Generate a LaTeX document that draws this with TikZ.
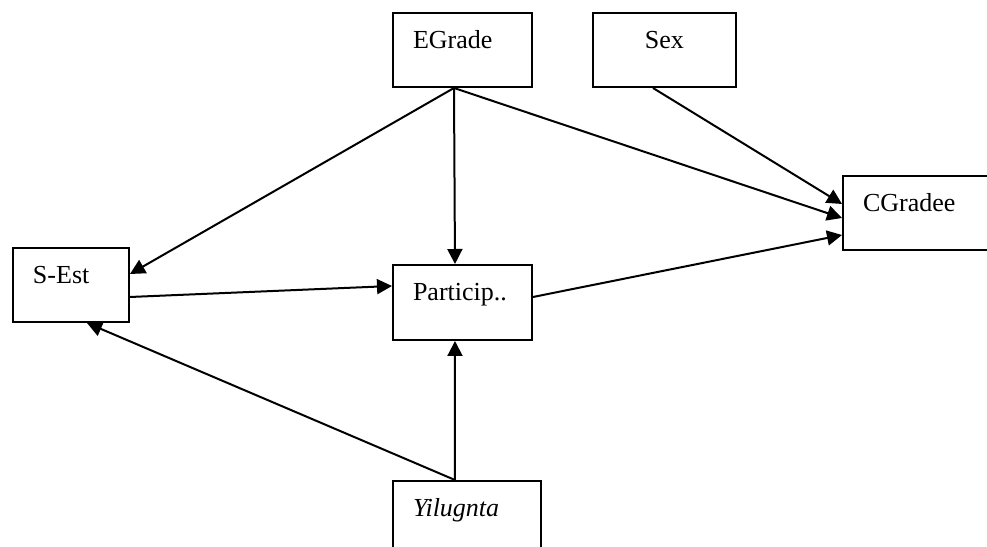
\documentclass[tikz,border=0pt]{standalone}
\usepackage{fontspec}
\setmainfont{Liberation Serif}
\usetikzlibrary{arrows.meta}

\tikzset{factor/.style={draw,line width=0.04cm,anchor=north west,inner xsep=0.4cm,inner ysep=0cm,align=left,font=\fontsize{14.8}{17}\selectfont,text height=0.72cm,text depth=0.76cm},
link/.style={line width=0.04cm,-{Triangle[length=0.3cm,width=0.3cm]}}}

\begin{document}
\begin{tikzpicture}[x=0.02cm,y=-0.02cm]
\useasboundingbox (0,0) rectangle (987,547);

%% Coordinates of boxes (upper left corners).
\coordinate (c1) at (392,12);
\coordinate (c2) at (592,12);
\coordinate (c3) at (842,175);
\coordinate (c4) at (12,247);
\coordinate (c5) at (392,264);
\coordinate (c6) at (392,480);

%% boxes
\node [factor,text width=1.98cm] (egrade) at (c1) {EGrade};
\node [factor,text width=2.06cm,align=center] (sex) at (c2) {Sex};
\node [factor,text width=2.40cm] (cgradee) at (c3) {CGradee};
\node [factor,text width=1.52cm] (sest) at (c4) {S-Est};
\node [factor,text width=1.98cm,text depth=0.78cm] (particip) at (c5) {Particip..};
\node [factor,text width=2.16cm,text depth=1.28cm] (yilugnta) at (c6) {\textit{Yilugnta}};

%% arrows
\draw [link] ([shift={(-8.5,0)}]egrade.south) -- ([shift={(0,-11)}]sest.east);
\draw [link] ([shift={(-8.5,0)}]egrade.south) -- ([shift={(-7.5,0)}]particip.north);
\draw [link] ([shift={(-8.5,0)}]egrade.south) -- ([shift={(0,5)}]cgradee.west);
\draw [link] ([shift={(-11.5,0)}]sex.south) -- ([shift={(0,-9)}]cgradee.west);
\draw [link] ([shift={(0,12)}]sest.east) -- ([shift={(0,-16.5)}]particip.west);
\draw [link] ([shift={(0,-5.5)}]particip.east) -- ([shift={(0,22)}]cgradee.west);
\draw [link] ([shift={(-12,0)}]yilugnta.north) -- ([shift={(-7.5,0)}]particip.south);
\draw [link] ([shift={(-12,0)}]yilugnta.north) -- ([shift={(16,0)}]sest.south);

\end{tikzpicture}
\end{document}
